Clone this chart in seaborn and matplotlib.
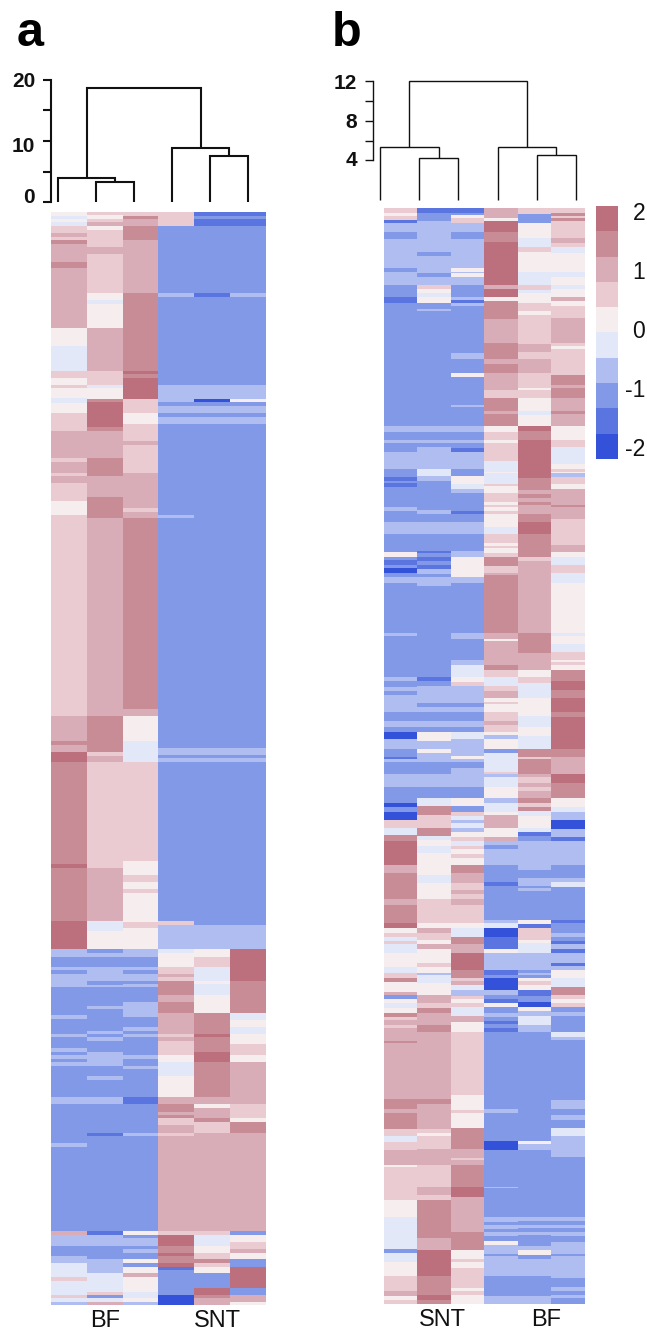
import numpy as np
import pandas as pd
import matplotlib
matplotlib.use("Agg")
import matplotlib.pyplot as plt
from matplotlib.colors import ListedColormap
import seaborn as sns

# ---- data: each column is a list of (colour level, last row of the run) ----
A_BF1 = [(1,4),(-1,7),(1,10),(-1,14),(2,21),(3,25),(2,28),(4,32),(3,50),(4,56),(3,116),(1,134),(-1,159),(2,166),(1,173),(2,176),(1,186),(-1,191),(1,201),(2,219),(3,246),(2,250),(3,261),(2,264),(3,271),(2,289),(1,303),(2,504),(3,529),(4,533),(3,540),(5,550),(4,652),(5,656),(4,709),(5,737),(-2,745),(-3,755),(-2,758),(-3,762),(-2,775),(-3,803),(-2,807),(-3,822),(-2,825),(-3,836),(-2,840),(-3,843),(-2,847),(-3,850),(-2,854),(-3,885),(-2,892),(-3,931),(-2,935),(-3,1019),(3,1023),(-2,1034),(-3,1044),(-2,1051),(-1,1065),(2,1069),(-1,1083),(2,1086),(-1,1090),(-2,1093)]
A_BF2 = [(2,3),(1,7),(2,10),(3,14),(1,18),(2,35),(3,42),(2,81),(1,88),(-1,92),(1,116),(3,159),(2,173),(-1,176),(1,187),(4,190),(5,215),(4,219),(3,246),(4,264),(3,285),(4,306),(3,504),(4,540),(2,544),(3,550),(2,656),(3,709),(-1,719),(1,737),(-3,741),(-2,745),(-3,755),(-2,769),(-3,773),(-2,775),(-3,794),(-2,797),(-3,819),(-2,822),(-3,825),(-2,829),(-3,840),(-2,854),(-3,864),(-2,868),(-3,885),(-2,892),(-3,921),(-4,924),(-3,1019),(-4,1023),(-2,1034),(-3,1047),(-2,1061),(-1,1080),(2,1083),(-3,1086),(-1,1090),(3,1093)]
A_BF3 = [(2,4),(4,7),(3,14),(4,28),(3,81),(4,159),(5,162),(4,166),(5,187),(2,201),(1,212),(2,229),(3,233),(2,261),(3,296),(2,300),(3,306),(4,497),(3,504),(1,529),(-1,550),(2,649),(1,663),(2,670),(1,677),(2,681),(1,710),(2,716),(1,737),(-2,745),(-3,755),(-2,758),(-3,762),(-2,769),(-3,772),(-2,775),(-3,790),(-2,805),(-3,815),(-2,819),(-3,822),(-2,825),(-3,843),(-2,847),(-3,854),(-2,857),(-3,885),(-4,892),(-3,921),(-2,924),(-3,1019),(1,1023),(-3,1026),(-2,1034),(-3,1037),(-2,1041),(-3,1047),(1,1051),(-3,1055),(1,1061),(3,1065),(1,1080),(-1,1086),(1,1090),(-2,1093)]
A_SNT1 = [(2,14),(-3,81),(-2,85),(-3,173),(-2,190),(-3,194),(-2,201),(-3,205),(-2,212),(-3,303),(-2,306),(-3,536),(-2,543),(-3,546),(-2,550),(-3,709),(2,713),(-2,737),(-1,741),(1,755),(2,762),(3,765),(2,769),(4,783),(3,790),(4,801),(3,822),(2,825),(3,829),(2,843),(1,850),(-1,864),(1,885),(3,892),(4,900),(3,903),(4,906),(2,913),(3,921),(2,924),(3,1019),(2,1023),(5,1034),(4,1041),(5,1044),(4,1051),(5,1055),(-4,1058),(-3,1083),(-5,1093)]
A_SNT2 = [(-4,4),(-3,7),(-4,14),(-3,81),(-4,85),(-3,173),(-2,187),(-5,190),(-3,194),(-2,201),(-3,205),(-2,212),(-3,536),(-2,543),(-3,546),(-2,550),(-3,713),(-2,737),(1,745),(2,755),(-1,769),(1,772),(-1,783),(1,801),(4,822),(5,825),(4,840),(5,850),(4,885),(3,892),(1,896),(3,906),(4,910),(2,921),(3,1019),(2,1023),(-1,1034),(1,1041),(2,1047),(4,1051),(2,1055),(1,1061),(-3,1076),(5,1083),(4,1086),(3,1093)]
A_SNT3 = [(-4,4),(-3,7),(-4,14),(-3,81),(-2,85),(-3,173),(-2,187),(1,190),(-3,194),(-2,201),(-3,205),(-2,212),(-3,536),(-2,543),(-3,546),(-2,550),(-3,713),(-2,737),(5,769),(4,801),(-1,808),(1,815),(-1,822),(1,832),(2,843),(1,850),(3,892),(2,906),(1,910),(4,921),(3,1019),(-3,1023),(1,1030),(2,1037),(3,1041),(1,1047),(-3,1055),(5,1076),(-3,1083),(3,1090),(1,1093)]

B_SNT1 = [(2,5),(1,8),(2,12),(-4,15),(-2,24),(-3,31),(-2,60),(-3,64),(-2,77),(-3,89),(-4,95),(-3,218),(-2,224),(-3,232),(-2,235),(-3,244),(-2,261),(-3,269),(-4,273),(-3,275),(-4,279),(-3,299),(-2,303),(-3,314),(-2,326),(-3,344),(1,349),(-3,352),(-4,357),(-3,360),(-5,365),(-3,369),(-2,375),(-3,425),(-2,428),(-3,469),(-2,473),(-3,479),(-2,483),(-3,487),(-2,504),(-3,513),(-2,519),(-3,524),(-5,531),(-2,541),(-3,549),(-4,551),(-2,554),(-3,566),(-2,579),(-3,595),(-5,599),(-3,604),(-5,612),(2,620),(-1,627),(4,633),(5,657),(3,665),(4,691),(3,697),(4,715),(5,720),(1,725),(2,729),(-1,733),(2,736),(-1,745),(1,759),(-1,765),(2,770),(4,774),(1,784),(3,787),(-3,791),(1,795),(-1,800),(1,805),(4,809),(2,812),(3,817),(2,820),(3,833),(4,835),(3,891),(4,901),(3,905),(4,921),(2,928),(-1,934),(2,942),(3,957),(1,959),(2,992),(1,1009),(-1,1032),(-1,1041),(-3,1045),(-1,1054),(1,1068),(2,1083),(3,1088),(1,1092),(2,1096)]
B_SNT2 = [(-4,5),(-3,13),(-2,44),(-3,48),(-2,65),(-3,69),(-2,77),(2,81),(1,85),(-1,89),(1,95),(-3,101),(-2,103),(-3,218),(-2,224),(-3,232),(-2,235),(-3,239),(-2,261),(-1,268),(-2,273),(-3,302),(-2,306),(-3,314),(-2,326),(-3,343),(-4,345),(-3,349),(-4,353),(-3,357),(-4,361),(-2,366),(-3,369),(-2,378),(-3,469),(-4,473),(-3,478),(-2,495),(-3,499),(-2,504),(-3,513),(-2,519),(-3,524),(1,533),(-2,541),(1,545),(-2,554),(-3,566),(-2,579),(-3,590),(-1,598),(4,607),(2,620),(4,628),(-1,632),(1,638),(-1,645),(1,667),(-1,675),(1,691),(2,715),(1,720),(3,725),(2,732),(1,736),(3,741),(1,755),(2,759),(1,765),(-2,767),(-1,775),(1,787),(3,795),(2,800),(4,805),(3,817),(4,824),(3,891),(4,896),(3,921),(2,925),(1,928),(2,941),(3,957),(2,979),(3,987),(2,992),(4,1030),(3,1042),(5,1068),(4,1087),(5,1092),(4,1096)]
B_SNT3 = [(-4,5),(-3,7),(1,10),(2,15),(-2,24),(-3,31),(-2,60),(1,64),(-2,65),(1,69),(-2,77),(-3,89),(-2,92),(-4,95),(-2,98),(-3,145),(-2,151),(-3,165),(1,169),(-3,197),(-2,199),(-3,218),(-2,224),(-3,232),(-2,235),(-3,240),(-4,244),(-2,261),(-3,268),(1,276),(-1,281),(-2,285),(-3,303),(-4,306),(-3,314),(-2,326),(-3,343),(-2,349),(1,369),(-2,375),(-3,425),(-2,431),(-3,452),(-2,457),(-1,469),(1,474),(2,478),(-2,495),(-3,499),(-2,504),(-3,513),(-2,519),(-3,524),(-1,531),(-2,548),(1,551),(-2,554),(-3,560),(-2,579),(-3,590),(1,598),(-3,604),(2,608),(-1,612),(-2,615),(-1,620),(-2,624),(1,629),(2,633),(-1,638),(2,641),(1,646),(2,650),(1,657),(4,665),(3,675),(2,682),(3,686),(2,691),(3,697),(2,715),(1,720),(-1,729),(4,736),(3,745),(5,762),(4,770),(2,773),(3,777),(-1,782),(-2,788),(2,791),(1,795),(2,799),(-1,808),(3,814),(1,824),(2,887),(1,902),(2,905),(1,920),(4,941),(3,950),(2,952),(3,957),(4,979),(5,989),(3,1024),(4,1042),(1,1051),(2,1054),(1,1060),(2,1080),(1,1083),(2,1087),(1,1096)]
B_BF1 = [(3,10),(1,13),(5,24),(4,34),(5,77),(3,81),(5,89),(1,93),(4,111),(3,135),(4,151),(3,156),(4,165),(3,182),(2,190),(4,203),(3,206),(4,218),(1,224),(2,232),(1,235),(2,253),(-1,264),(1,265),(-1,276),(2,278),(1,285),(2,294),(1,297),(2,299),(1,303),(2,306),(1,319),(-1,326),(2,335),(1,338),(2,340),(1,345),(2,349),(4,358),(2,365),(3,367),(4,425),(3,431),(1,433),(3,457),(4,462),(2,469),(-1,478),(2,483),(3,490),(1,494),(2,496),(1,504),(2,513),(3,517),(2,524),(1,527),(-2,531),(1,541),(-3,545),(-1,564),(2,566),(-2,569),(-1,579),(1,590),(-2,595),(-1,604),(1,607),(3,620),(1,629),(3,633),(-2,637),(-3,641),(-2,657),(-3,674),(-4,678),(-3,712),(-2,715),(-1,720),(-5,729),(-4,741),(1,745),(-2,762),(-4,767),(-3,770),(-5,782),(-2,787),(-3,791),(-4,795),(1,799),(-3,805),(-2,809),(-3,813),(-4,816),(-3,820),(-4,824),(-3,901),(-2,905),(-3,933),(-5,942),(-3,979),(-2,980),(-3,1009),(-2,1014),(-3,1017),(-2,1021),(-3,1024),(-2,1028),(-3,1033),(1,1037),(-2,1046),(-3,1048),(-2,1068),(-3,1088),(-2,1096)]
B_BF2 = [(2,6),(-3,15),(1,30),(-1,39),(2,44),(1,64),(-1,77),(2,82),(-1,85),(1,95),(2,103),(1,107),(2,136),(3,144),(2,151),(3,165),(2,180),(1,182),(2,190),(1,203),(-1,207),(1,218),(5,223),(4,232),(5,270),(4,282),(3,286),(4,290),(3,294),(4,297),(3,306),(4,314),(5,326),(4,349),(2,353),(3,425),(4,445),(3,462),(1,469),(2,475),(-1,490),(1,508),(-1,519),(1,528),(-1,541),(4,549),(2,551),(4,566),(3,569),(2,575),(3,579),(2,583),(3,590),(4,595),(2,599),(4,603),(-1,608),(1,620),(-1,624),(-4,628),(-3,633),(-2,662),(-3,670),(-2,678),(-3,680),(-2,683),(-3,712),(1,716),(-4,720),(2,732),(1,735),(-1,745),(-2,762),(-3,765),(-2,767),(-3,770),(1,773),(2,777),(1,782),(-4,788),(-3,794),(-5,799),(1,803),(-2,808),(-1,817),(-2,824),(-3,933),(1,936),(-2,942),(-3,1009),(-2,1013),(-3,1017),(-2,1020),(-3,1024),(-2,1027),(-3,1038),(-2,1042),(1,1047),(-3,1051),(-2,1068),(-3,1088),(-2,1096)]
B_BF3 = [(2,5),(4,8),(2,10),(4,13),(2,30),(3,35),(2,39),(-1,45),(1,64),(-1,69),(1,77),(-1,81),(1,89),(3,93),(1,98),(2,110),(3,135),(2,138),(1,141),(2,167),(4,177),(3,180),(4,190),(3,203),(4,206),(3,218),(1,232),(2,239),(-1,256),(1,261),(2,264),(1,265),(-2,269),(2,276),(1,281),(3,297),(4,299),(3,311),(2,337),(3,344),(1,349),(-1,357),(2,365),(-1,375),(1,425),(-1,428),(1,436),(-1,444),(2,452),(1,454),(2,457),(1,462),(4,473),(5,482),(4,490),(5,504),(4,509),(5,541),(4,549),(3,566),(5,575),(4,590),(1,595),(1,599),(-1,604),(-2,612),(-5,621),(-2,629),(-4,633),(-2,657),(-3,670),(-2,674),(-1,679),(-3,712),(-4,715),(-3,725),(-2,729),(-3,733),(-4,736),(-2,741),(-4,745),(-2,755),(-4,758),(-2,762),(1,770),(-1,779),(4,787),(2,791),(1,795),(2,799),(-3,804),(-2,808),(-3,824),(-1,829),(-2,832),(-3,892),(-2,901),(-3,907),(-2,912),(-3,920),(-1,928),(-2,949),(-3,1009),(-2,1013),(-3,1017),(-2,1020),(-3,1024),(-2,1028),(-3,1034),(-2,1046),(-3,1048),(-2,1070),(-3,1079),(-2,1083),(-3,1087),(-2,1090),(-3,1096)]

A_COLUMNS = ["BF 1", "BF 2", "BF 3", "SNT 1", "SNT 2", "SNT 3"]
B_COLUMNS = ["SNT 1", "SNT 2", "SNT 3", "BF 1", "BF 2", "BF 3"]

# z-score carried by each colour level
LEVEL_VALUES = {-5:-1.99, -4:-1.56, -3:-1.13, -2:-0.70, -1:-0.27, 1:0.15, 2:0.58, 3:1.01, 4:1.44, 5:1.87}
COLORBAR_TICKS = [-2, -1, 0, 1, 2]
PALETTE = ["#3352d9", "#5a74e0", "#8299e8", "#b0bdf0", "#e2e8f8",
           "#f6edef", "#e9cbd1", "#d9adb7", "#c88c97", "#bc6f7c"]

# dendrogram merge heights: (left pair, left cluster, right pair, right cluster, root)
A_HEIGHTS = [3.2, 3.9, 7.5, 8.9, 18.7]
B_HEIGHTS = [4.2, 5.37, 4.5, 5.37, 12.0]
A_DENDRO_TICKS = [0, 5, 10, 15, 20]
A_DENDRO_LABELS = ["0", "", "10", "", "20"]
B_DENDRO_TICKS = [4, 6, 8, 10, 12]
B_DENDRO_LABELS = ["4", "", "8", "", "12"]


def expand(column):
    levels = [c[0] for c in column]
    stops = [c[1] for c in column]
    runs = np.diff([0] + stops)
    return np.repeat([LEVEL_VALUES[l] for l in levels], runs)


def frame(columns, names):
    n = min(c[-1][1] for c in columns)
    return pd.DataFrame({name: expand(c)[:n] for name, c in zip(names, columns)})


W, H = 647, 1332
sns.set_style("white")
plt.rcParams["font.family"] = ["Liberation Sans", "DejaVu Sans"]
plt.rcParams["axes.unicode_minus"] = False

fig = plt.figure(figsize=(W / 100, H / 100), dpi=100, facecolor="white")


def axes_px(x0, y0, x1, y1):
    return fig.add_axes([x0 / W, 1 - y1 / H, (x1 - x0) / W, (y1 - y0) / H])


cmap = ListedColormap(PALETTE)
VMIN, VMAX = -2.2, 2.08


def heat(rect, df, ticks, labels, cbar_ax=None):
    ax = axes_px(*rect)
    sns.heatmap(df, ax=ax, cmap=cmap, vmin=VMIN, vmax=VMAX, cbar=cbar_ax is not None,
                cbar_ax=cbar_ax, xticklabels=False, yticklabels=False, rasterized=True)
    ax.set_xticks(ticks)
    ax.set_xticklabels(labels, fontsize=17, rotation=0, color="#111111")
    ax.tick_params(axis="x", length=0, pad=3.5)
    ax.set_xlabel("")
    ax.set_ylabel("")
    return ax


def dendro(rect, leaf_px, heights, ymax, ticks, labels, nudges, lw, lab_size):
    ax = axes_px(*rect)
    # leaves sit at integer positions; xlim aligns them with their pixel columns
    spacing = (leaf_px[1] - leaf_px[0]) / 5
    ax.set_xlim((rect[0] - leaf_px[0]) / spacing, (rect[2] - leaf_px[0]) / spacing)
    ax.set_ylim(0, ymax)
    p1, c1, p2, c2, root = heights

    def join(xa, ya, xb, yb, top):
        ax.plot([xa, xa, xb, xb], [ya, top, top, yb], color="#111111", lw=lw,
                solid_joinstyle="miter", solid_capstyle="butt", clip_on=False)

    join(1, 0, 2, 0, p1)
    join(0, 0, 1.5, p1, c1)
    join(4, 0, 5, 0, p2)
    join(3, 0, 4.5, p2, c2)
    join(0.75, c1, 3.75, c2, root)
    for s in ["top", "right", "bottom"]:
        ax.spines[s].set_visible(False)
    ax.spines["left"].set_linewidth(lw)
    ax.spines["left"].set_color("#111111")
    ax.spines["left"].set_bounds(ticks[0], ticks[-1])
    ax.set_xticks([])
    ax.set_yticks(ticks)
    ax.set_yticklabels([""] * len(ticks))
    ax.tick_params(axis="y", left=True, length=6, width=lw, color="#111111")
    for t, lab, nudge in zip(ticks, labels, nudges):
        if lab:
            ax.annotate(lab, xy=(0, t), xycoords=("axes fraction", "data"),
                        xytext=(-11.5, nudge), textcoords="offset points",
                        ha="right", va="center", fontsize=lab_size,
                        fontweight="bold", color="#111111")
    ax.patch.set_alpha(0)
    return ax


df_a = frame([A_BF1, A_BF2, A_BF3, A_SNT1, A_SNT2, A_SNT3], A_COLUMNS)
df_b = frame([B_SNT1, B_SNT2, B_SNT3, B_BF1, B_BF2, B_BF3], B_COLUMNS)

heat((51, 212, 266, 1305), df_a, [1.5, 4.65], ["BF", "SNT"])

cax = axes_px(596, 206, 618, 459)
heat((383.5, 208, 584.5, 1304), df_b, [1.75, 4.85], ["SNT", "BF"], cbar_ax=cax)
cax.set_yticks(COLORBAR_TICKS)
cax.set_yticklabels([str(t) for t in COLORBAR_TICKS], fontsize=16.5, ha="right", color="#111111")
cax.tick_params(axis="y", length=0, pad=19.5)

dendro((51, 80, 266, 202), (58, 248), A_HEIGHTS, 20, A_DENDRO_TICKS, A_DENDRO_LABELS,
       [3, 0, -4, 0, -1], 1.5, 15)
dendro((373, 81, 590, 200), (380, 576), B_HEIGHTS, 12, B_DENDRO_TICKS, B_DENDRO_LABELS,
       [0, 0, -1.5, 0, -2], 1.0, 15)

fig.text(17 / W, 1 - 46 / H, "a", fontsize=35, fontweight="bold", color="black", va="baseline")
fig.text(332 / W, 1 - 46 / H, "b", fontsize=35, fontweight="bold", color="black", va="baseline")

fig.savefig("out.png", dpi=100, facecolor="white")
